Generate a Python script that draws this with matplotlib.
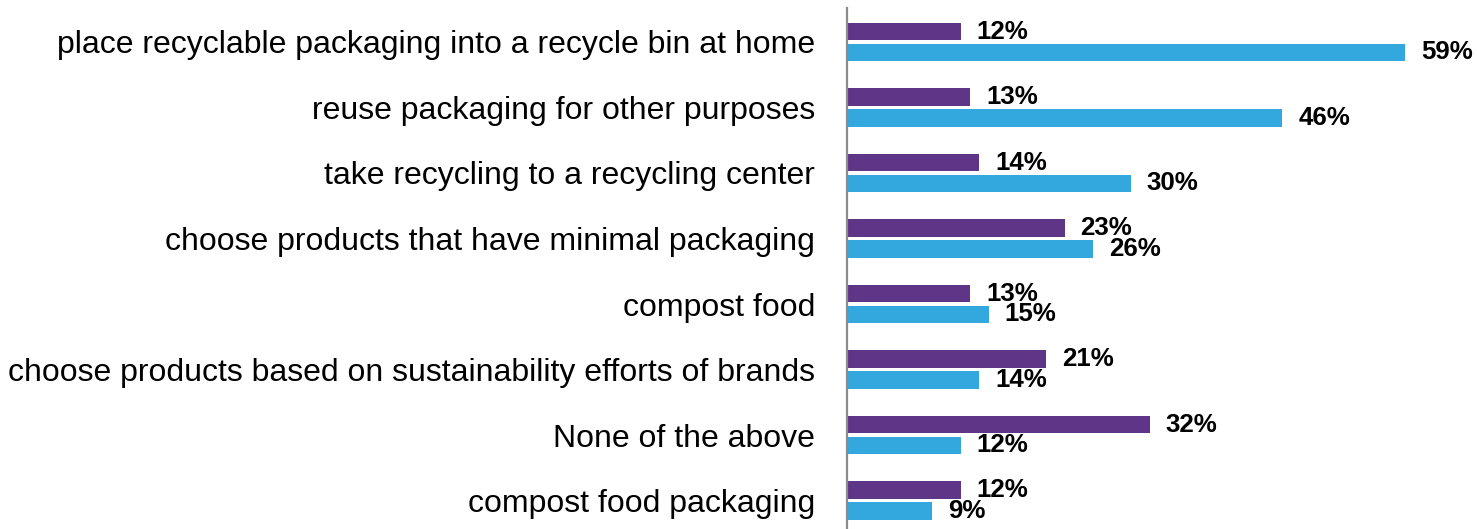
import numpy as np
import matplotlib
matplotlib.use("Agg")
import matplotlib.pyplot as plt

plt.rcParams['font.family'] = ['Liberation Sans', 'DejaVu Sans']

categories = [
    "place recyclable packaging into a recycle bin at home",
    "reuse packaging for other purposes",
    "take recycling to a recycling center",
    "choose products that have minimal packaging",
    "compost food",
    "choose products based on sustainability efforts of brands",
    "None of the above",
    "compost food packaging",
]
purple_vals = [12, 13, 14, 23, 13, 21, 32, 12]
blue_vals = [59, 46, 30, 26, 15, 14, 12, 9]

purple = "#5E3587"
blue = "#33A8DF"

fig = plt.figure(figsize=(14.77, 5.29), dpi=100)
ax = fig.add_axes([847 / 1477, 0, 630 / 1477, 521 / 529])

y = np.arange(len(categories))
h = 0.27
off = 0.16

ax.barh(y - off, purple_vals, height=h, color=purple)
ax.barh(y + off, blue_vals, height=h, color=blue)

for yi, v in zip(y - off, purple_vals):
    ax.annotate("%d%%" % v, (v, yi), xytext=(11.5, 0), textcoords="offset points",
                ha="left", va="center", fontsize=18.6, fontweight="bold", color="black")
for yi, v in zip(y + off, blue_vals):
    ax.annotate("%d%%" % v, (v, yi), xytext=(11.5, 0), textcoords="offset points",
                ha="left", va="center", fontsize=18.6, fontweight="bold", color="black")

ax.set_xlim(0, 630 / 9.46)
ax.set_ylim(7.435, -0.519)
ax.set_yticks(y)
ax.set_yticklabels(categories, fontsize=23)
ax.tick_params(axis="y", length=0, pad=23)
ax.set_xticks([])

for s in ["top", "right", "bottom"]:
    ax.spines[s].set_visible(False)
ax.spines["left"].set_color("#8C8C8C")
ax.spines["left"].set_linewidth(1.6)

plt.savefig("out.png", dpi=100)
